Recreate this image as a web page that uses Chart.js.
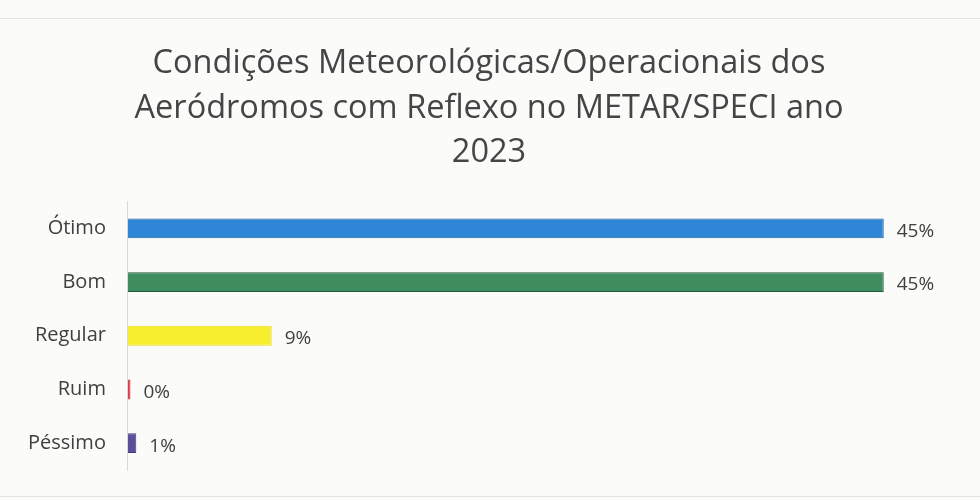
<!DOCTYPE html>
<html>
<head>
<meta charset="utf-8">
<script src="https://cdn.jsdelivr.net/npm/chart.js@4"></script>
<style>
  html, body { margin: 0; padding: 0; background: #fbfbf9; }
  #wrap { width: 980px; height: 500px; position: relative; }
  #wrap:before { content: ""; position: absolute; left: 0; right: 0; top: 18px; border-top: 1px solid #e2e2e0; }
  #wrap:after { content: ""; position: absolute; left: 0; right: 0; top: 496px; border-top: 1px solid #e2e2e0; }
</style>
</head>
<body>
<div id="wrap"><canvas id="graficoCondicoes" width="980" height="500"></canvas></div>
<script>
const categorias = ["Ótimo", "Bom", "Regular", "Ruim", "Péssimo"];
const percentuais = [45.2, 45.2, 8.6, 0.15, 0.5];
const rotulos = ["45%", "45%", "9%", "0%", "1%"];
const cores = ["#2f86d6", "#3f8c5e", "#f6ee2e", "#e23a44", "#5b4f9c"];
const bordas = ["#1f5f9e", "#1f5a38", "#e8df20", "#c8202c", "#463c80"];
const titulo = ["Condições Meteorológicas/Operacionais dos", "Aeródromos com Reflexo no METAR/SPECI ano", "2023"];

const fonte = "'Open Sans', sans-serif";

// rótulos de valor ao lado das barras (sem plugin externo)
const rotuloBarras = {
    id: "rotuloBarras",
    afterDatasetsDraw(chart) {
        const ctx = chart.ctx;
        const meta = chart.getDatasetMeta(0);
        ctx.save();
        ctx.font = "19px " + fonte;
        ctx.fillStyle = "#404040";
        ctx.textBaseline = "middle";
        ctx.textAlign = "left";
        meta.data.forEach((bar, i) => {
            ctx.fillText(rotulos[i], bar.x + 13, bar.y + 3);
        });
        ctx.restore();
    }
};

const ctx = document.getElementById("graficoCondicoes").getContext("2d");
new Chart(ctx, {
    type: "bar",
    data: {
        labels: categorias,
        datasets: [{
            label: "",
            data: percentuais,
            backgroundColor: cores,
            borderColor: bordas,
            borderWidth: 1,
            barPercentage: 0.37,
            categoryPercentage: 1
        }]
    },
    options: {
        indexAxis: "y",
        responsive: false,
        animation: false,
        layout: {
            padding: { left: 14, right: 16, top: 0, bottom: 30 }
        },
        plugins: {
            legend: { display: false },
            tooltip: { enabled: false },
            title: {
                display: true,
                text: titulo,
                color: "#454545",
                font: { family: fonte, size: 32.5, weight: "normal", lineHeight: 1.38 },
                padding: { top: 41, bottom: 26 }
            }
        },
        scales: {
            x: {
                display: false,
                min: 0,
                max: 50
            },
            y: {
                grid: { display: false },
                border: { display: true, color: "#d9d9d9" },
                ticks: {
                    color: "#404040",
                    padding: 14,
                    font: { family: fonte, size: 20 }
                }
            }
        }
    },
    plugins: [rotuloBarras]
});
</script>
</body>
</html>
